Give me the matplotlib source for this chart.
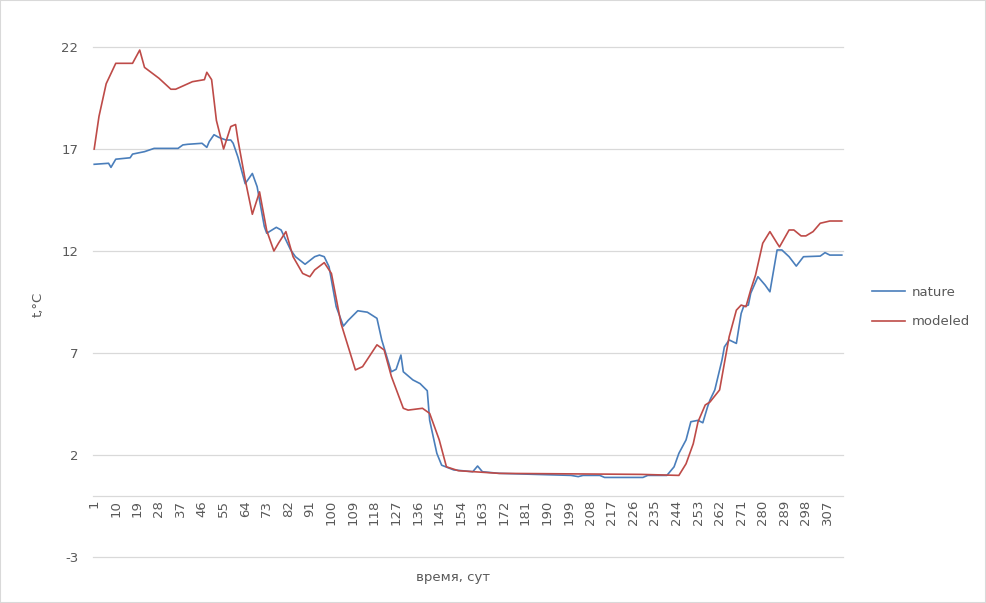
import numpy as np
import matplotlib.pyplot as plt
from matplotlib.patches import Rectangle

plt.rcParams['axes.unicode_minus'] = False

# (day, value) points for each series
n_days = 313

nature_day = [1, 7, 8, 10, 16, 17, 22, 26, 36, 38, 40, 46, 48, 49, 51, 53, 56, 58, 59, 61,
              64, 67, 69, 72, 73, 77, 79, 83, 85, 89, 93, 95, 97, 99, 102, 105, 107, 111, 115,
              119, 121, 125, 127, 129, 130, 134, 137, 140, 141, 144, 146, 151, 159, 161, 163,
              170, 200, 203, 205, 212, 214, 230, 232, 240, 243, 245, 248, 250, 253, 255, 257,
              258, 260, 263, 264, 266, 269, 271, 272, 274, 275, 278, 281, 283, 286, 288, 291,
              294, 297, 304, 306, 308, 313]
nature_t = [16.25, 16.3, 16.1, 16.5, 16.57, 16.75, 16.87, 17.03, 17.03, 17.2, 17.23, 17.28,
            17.08, 17.36, 17.7, 17.57, 17.44, 17.44, 17.28, 16.6, 15.3, 15.8, 15.15, 13.2,
            12.87, 13.16, 13.03, 12.05, 11.72, 11.35, 11.72, 11.8, 11.72, 11.23, 9.27, 8.32,
            8.6, 9.07, 9.0, 8.7, 7.64, 6.08, 6.2, 6.9, 6.08, 5.68, 5.5, 5.15, 3.7, 2.08, 1.5,
            1.27, 1.18, 1.46, 1.18, 1.1, 1.0, 0.94, 1.0, 1.0, 0.9, 0.9, 1.0, 1.0, 1.42, 2.08,
            2.74, 3.63, 3.7, 3.58, 4.37, 4.7, 5.19, 6.66, 7.3, 7.64, 7.47, 8.94, 9.27, 9.35,
            9.93, 10.74, 10.33, 10.0, 12.05, 12.05, 11.72, 11.26, 11.72, 11.75, 11.92, 11.8,
            11.8]

modeled_day = [1, 3, 6, 10, 17, 20, 22, 28, 33, 35, 42, 47, 48, 50, 52, 55, 58, 60, 61, 64,
               67, 70, 73, 76, 78, 81, 84, 88, 91, 93, 97, 100, 104, 110, 113, 119, 122, 125,
               130, 132, 138, 141, 145, 148, 153, 170, 229, 245, 248, 251, 253, 256, 258, 262,
               264, 266, 269, 271, 273, 275, 277, 280, 283, 286, 287, 291, 293, 296, 298, 301,
               304, 308, 313]
modeled_t = [17.0, 18.6, 20.2, 21.2, 21.2, 21.85, 21.0, 20.47, 19.93, 19.93, 20.3, 20.4, 20.76,
             20.4, 18.4, 17.0, 18.1, 18.2, 17.44, 15.5, 13.8, 14.9, 13.0, 12.0, 12.4, 12.95,
             11.72, 10.9, 10.74, 11.07, 11.43, 10.9, 8.45, 6.17, 6.33, 7.4, 7.15, 5.86, 4.29,
             4.2, 4.29, 4.04, 2.74, 1.42, 1.23, 1.1, 1.05, 1.0, 1.57, 2.55, 3.63, 4.45, 4.6,
             5.19, 6.5, 7.8, 9.1, 9.35, 9.27, 10.1, 10.82, 12.38, 12.95, 12.38, 12.2, 13.03,
             13.03, 12.74, 12.74, 12.95, 13.36, 13.47, 13.47]

x_ticks = list(range(1, n_days + 1, 9))
y_ticks = [-3, 2, 7, 12, 17, 22]

txt = '#595959'
grid = '#d9d9d9'
fs = 9.5

fig = plt.figure(figsize=(9.86, 6.03), dpi=100)
fig.patches.append(Rectangle((0, 0), 1, 1, transform=fig.transFigure, fill=False,
                             edgecolor=grid, lw=1.5))
ax = fig.add_axes([93 / 986, 46 / 603, 750 / 986, 510 / 603])

for s in ['top', 'right', 'left']:
    ax.spines[s].set_visible(False)
# category axis crosses at 0 (do this before styling ticks, it resets them)
ax.spines['bottom'].set_position(('data', 0))
ax.spines['bottom'].set_color(grid)
ax.spines['bottom'].set_linewidth(0.9)

ax.plot(nature_day, nature_t, color='#4a7ebb', lw=1.2, label='nature')
ax.plot(modeled_day, modeled_t, color='#be4b48', lw=1.2, label='modeled')

ax.set_xlim(0.5, n_days + 0.5)
ax.set_ylim(-3, 22)
ax.set_yticks(y_ticks)
ax.set_xticks(x_ticks)
ax.set_xticklabels([str(v) for v in x_ticks], rotation=90, fontsize=fs, color=txt)
ax.tick_params(axis='y', length=0, labelsize=fs, labelcolor=txt, pad=10.5)
ax.tick_params(axis='x', length=0, pad=3)
ax.grid(axis='y', color=grid, lw=0.9)
for gl in ax.get_ygridlines():
    gl.set_clip_on(False)
ax.set_axisbelow(True)

fig.text(38 / 986, 1 - 304 / 603, 't,°C', fontsize=fs, color=txt, rotation=90,
         ha='center', va='center')
fig.text(453 / 986, 1 - 578 / 603, 'время, сут', fontsize=fs, color=txt,
         ha='center', va='center')

fig.legend(loc='center left', bbox_to_anchor=(872 / 986, 1 - 307 / 603), frameon=False,
           fontsize=fs, labelcolor=txt, handlelength=2.5, handletextpad=0.5,
           labelspacing=1.25, borderaxespad=0, borderpad=0)

plt.savefig('out.png', dpi=100)
